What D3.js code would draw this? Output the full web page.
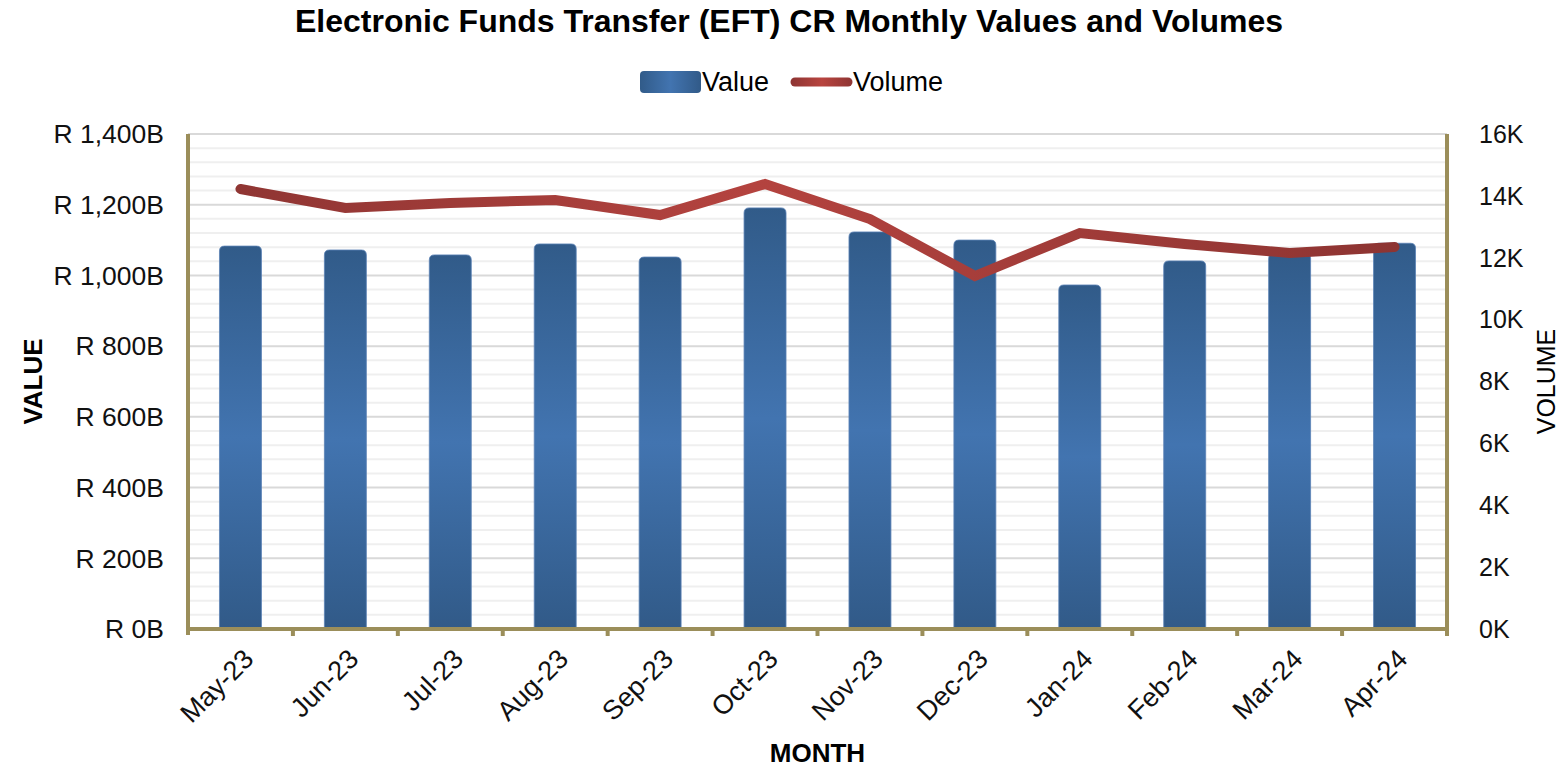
<!DOCTYPE html>
<html>
<head>
<meta charset="utf-8">
<script src="https://cdn.jsdelivr.net/npm/d3@7"></script>
<style>
  body { margin: 0; background: #fff; }
  text { font-family: "Liberation Sans", Arial, sans-serif; }
</style>
</head>
<body>
<div id="chart"></div>
<script>
// EFT CR monthly values (R billions) and volumes (thousands)
const months = ["May-23", "Jun-23", "Jul-23", "Aug-23", "Sep-23", "Oct-23", "Nov-23", "Dec-23", "Jan-24", "Feb-24", "Mar-24", "Apr-24"];
const values = [1083, 1072, 1058, 1089, 1052, 1191, 1123, 1100, 973, 1041, 1062, 1091];
const volumes = [14222, 13607, 13770, 13866, 13381, 14383, 13252, 11410, 12800, 12444, 12153, 12347];
const valueTicks = [0, 200, 400, 600, 800, 1000, 1200, 1400];
const volumeTicks = [0, 2000, 4000, 6000, 8000, 10000, 12000, 14000, 16000];

const W = 1559, H = 768;
const m = { l: 188, r: 112, t: 134, b: 139 };
const iw = W - m.l - m.r, ih = H - m.t - m.b;

const svg = d3.select("#chart").append("svg")
  .attr("width", W).attr("height", H);

const defs = svg.append("defs");
const barGrad = defs.append("linearGradient").attr("id", "barGrad")
  .attr("x1", 0).attr("x2", 0).attr("y1", 0).attr("y2", 1);
barGrad.append("stop").attr("offset", "0%").attr("stop-color", "#315b89");
barGrad.append("stop").attr("offset", "50%").attr("stop-color", "#4274b0");
barGrad.append("stop").attr("offset", "100%").attr("stop-color", "#315a88");

const lineGrad = defs.append("linearGradient").attr("id", "lineGrad")
  .attr("gradientUnits", "userSpaceOnUse")
  .attr("x1", m.l).attr("x2", m.l + iw).attr("y1", 0).attr("y2", 0);
lineGrad.append("stop").attr("offset", "0%").attr("stop-color", "#8c3432");
lineGrad.append("stop").attr("offset", "45%").attr("stop-color", "#b4433f");
lineGrad.append("stop").attr("offset", "100%").attr("stop-color", "#8a3331");

const legGradV = defs.append("linearGradient").attr("id", "legV");
legGradV.append("stop").attr("offset", "0%").attr("stop-color", "#315b89");
legGradV.append("stop").attr("offset", "50%").attr("stop-color", "#4274b0");
legGradV.append("stop").attr("offset", "100%").attr("stop-color", "#315a88");
const legGradL = defs.append("linearGradient").attr("id", "legL")
  .attr("gradientUnits", "userSpaceOnUse")
  .attr("x1", 150).attr("x2", 214).attr("y1", 0).attr("y2", 0);
legGradL.append("stop").attr("offset", "0%").attr("stop-color", "#8c3432");
legGradL.append("stop").attr("offset", "50%").attr("stop-color", "#b8443f");
legGradL.append("stop").attr("offset", "100%").attr("stop-color", "#8c3432");

const x = d3.scaleBand().domain(months).range([0, iw]).paddingInner(0.6).paddingOuter(0.3);
const y = d3.scaleLinear().domain([0, 1400]).range([ih, 0]);
const y2 = d3.scaleLinear().domain([0, 16000]).range([ih, 0]);

const g = svg.append("g").attr("transform", `translate(${m.l},${m.t})`);

// Gridlines: minor every 40B, major every 200B
g.append("g").selectAll("line").data(d3.range(40, 1400, 40).filter(v => v % 200 !== 0))
  .join("line")
  .attr("x1", 0).attr("x2", iw).attr("y1", d => y(d)).attr("y2", d => y(d))
  .attr("stroke", "#efefef").attr("stroke-width", 2);
g.append("g").selectAll("line").data(valueTicks.slice(1))
  .join("line")
  .attr("x1", 0).attr("x2", iw).attr("y1", d => y(d)).attr("y2", d => y(d))
  .attr("stroke", "#d9d9d9").attr("stroke-width", 2);

// Bars
g.append("g").selectAll("path").data(months)
  .join("path")
  .attr("d", (d, i) => {
    const x0 = x(d), w = x.bandwidth(), y0 = y(values[i]), r = 5;
    return `M${x0},${ih}V${y0 + r}Q${x0},${y0} ${x0 + r},${y0}H${x0 + w - r}Q${x0 + w},${y0} ${x0 + w},${y0 + r}V${ih}Z`;
  })
  .attr("fill", "url(#barGrad)")
  .attr("stroke", "#5a82b5").attr("stroke-width", 0.8);

// Volume line
const xs = months.map(d => x(d) + x.bandwidth() / 2);
g.append("path")
  .datum(volumes)
  .attr("transform", `translate(${-m.l},0)`)
  .attr("d", d3.line().x((d, i) => m.l + xs[i]).y(d => y2(d)))
  .attr("fill", "none").attr("stroke", "url(#lineGrad)")
  .attr("stroke-width", 10).attr("stroke-linecap", "round").attr("stroke-linejoin", "miter");

// Axes lines
const axisColor = "#9b8e5a";
g.append("line").attr("x1", 0).attr("x2", 0).attr("y1", 0).attr("y2", ih + 6)
  .attr("stroke", axisColor).attr("stroke-width", 4);
g.append("line").attr("x1", iw).attr("x2", iw).attr("y1", 0).attr("y2", ih)
  .attr("stroke", axisColor).attr("stroke-width", 4);
g.append("line").attr("x1", -2).attr("x2", iw + 2).attr("y1", ih).attr("y2", ih)
  .attr("stroke", axisColor).attr("stroke-width", 4);
g.append("g").selectAll("line").data(d3.range(1, months.length + 1))
  .join("line")
  .attr("x1", i => i * iw / months.length).attr("x2", i => i * iw / months.length)
  .attr("y1", ih).attr("y2", ih + 7)
  .attr("stroke", axisColor).attr("stroke-width", 4);

// Left tick labels
g.append("g").selectAll("text").data(valueTicks)
  .join("text")
  .attr("x", -24).attr("y", d => y(d)).attr("dy", "0.35em")
  .attr("text-anchor", "end").attr("font-size", 26.5).attr("fill", "#111")
  .text(d => "R " + d3.format(",")(d) + "B");

// Right tick labels
g.append("g").selectAll("text").data(volumeTicks)
  .join("text")
  .attr("x", iw + 32).attr("y", d => y2(d)).attr("dy", "0.35em")
  .attr("text-anchor", "start").attr("font-size", 25).attr("fill", "#111")
  .text(d => (d / 1000) + "K");

// X labels
g.append("g").selectAll("text").data(months)
  .join("text")
  .attr("transform", (d, i) => `translate(${xs[i] + 8},${ih + 25}) rotate(-45)`)
  .attr("text-anchor", "end").attr("dy", "0.35em")
  .attr("font-size", 27).attr("fill", "#111")
  .text(d => d);

// Axis titles
svg.append("text").attr("x", m.l + iw / 2).attr("y", 762)
  .attr("text-anchor", "middle").attr("font-size", 26).attr("font-weight", "bold")
  .text("MONTH");
svg.append("text").attr("transform", `translate(42,${m.t + ih / 2}) rotate(-90)`)
  .attr("text-anchor", "middle").attr("font-size", 26).attr("font-weight", "bold")
  .text("VALUE");
svg.append("text").attr("transform", `translate(1555,${m.t + ih / 2}) rotate(-90)`)
  .attr("text-anchor", "middle").attr("font-size", 25)
  .text("VOLUME");

// Title
svg.append("text").attr("x", 789).attr("y", 32)
  .attr("text-anchor", "middle").attr("font-size", 32).attr("font-weight", "bold")
  .text("Electronic Funds Transfer (EFT) CR Monthly Values and Volumes");

// Legend
const leg = svg.append("g").attr("transform", "translate(640,82)");
leg.append("rect").attr("x", 0).attr("y", -11).attr("width", 61).attr("height", 22).attr("rx", 4)
  .attr("fill", "url(#legV)");
leg.append("text").attr("x", 62).attr("y", 0).attr("dy", "0.35em").attr("font-size", 27).text("Value");
leg.append("line").attr("x1", 155).attr("x2", 208).attr("y1", 0).attr("y2", 0)
  .attr("stroke", "url(#legL)").attr("stroke-width", 9).attr("stroke-linecap", "round");
leg.append("text").attr("x", 213).attr("y", 0).attr("dy", "0.35em").attr("font-size", 27).text("Volume");
</script>
</body>
</html>
